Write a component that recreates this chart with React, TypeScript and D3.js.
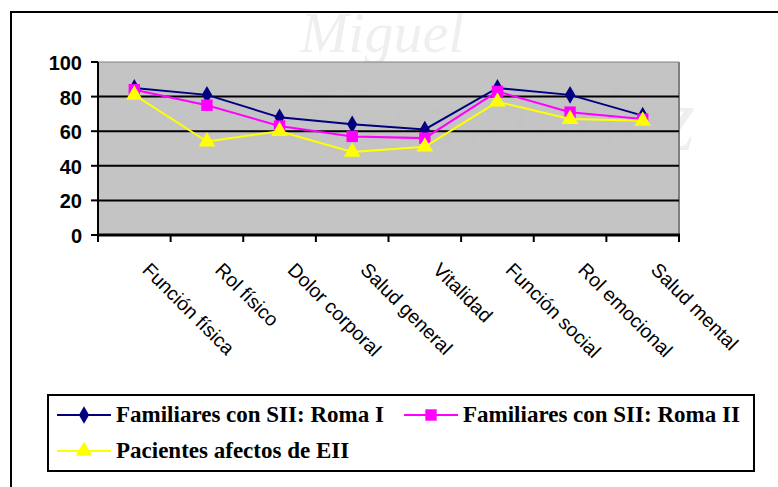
import React, { useRef, useEffect } from "react";
import { select, scaleBand, scaleLinear, line, symbol, symbolDiamond, symbolSquare, symbolTriangle } from "d3";

const categories = ["Función física", "Rol físico", "Dolor corporal", "Salud general", "Vitalidad", "Función social", "Rol emocional", "Salud mental"];
const romaI = [85, 81, 68, 64, 61, 85, 81, 69];
const romaII = [84, 75, 63, 57, 56, 83, 71, 67];
const pacientes = [81, 54, 60, 48, 51, 77, 67, 66];
const yTicks = [0, 20, 40, 60, 80, 100];

const seriesNames = ["Familiares con SII: Roma I", "Familiares con SII: Roma II", "Pacientes afectos de EII"];

function App() {
    const svgRef = useRef(null);

    useEffect(() => {
        const svg = select(svgRef.current);
        svg.selectAll("*").remove();

        const W = 778, H = 487;
        const left = 98, right = 679, top = 62, bottom = 235;

        const x = scaleBand().domain(categories).range([left, right]);
        const y = scaleLinear().domain([0, 100]).range([bottom, top]);

        const series = [
            { name: seriesNames[0], values: romaI, color: "#000080", shape: symbolDiamond, size: 90 },
            { name: seriesNames[1], values: romaII, color: "#FF00FF", shape: symbolSquare, size: 130 },
            { name: seriesNames[2], values: pacientes, color: "#FFFF00", shape: symbolTriangle, size: 120 },
        ];

        // page background
        svg.append("rect").attr("width", W).attr("height", H).attr("fill", "#fff");

        // faint watermark
        const wm = svg.append("g").attr("opacity", 0.06).attr("font-family", "Liberation Serif, serif").attr("font-style", "italic");
        wm.append("text").attr("x", 300).attr("y", 52).attr("font-size", 58).text("Miguel");
        wm.append("text").attr("x", 300).attr("y", 150).attr("font-size", 90).text("Hernández");

        // outer chart frame
        svg.append("rect").attr("x", 11).attr("y", 12).attr("width", 800).attr("height", 500)
            .attr("fill", "none").attr("stroke", "#000").attr("stroke-width", 2);

        // plot area
        svg.append("rect").attr("x", left).attr("y", top).attr("width", right - left).attr("height", bottom - top)
            .attr("fill", "#C0C0C0").attr("fill-opacity", 0.93);
        svg.append("line").attr("x1", right).attr("x2", right).attr("y1", top).attr("y2", bottom)
            .attr("stroke", "#808080").attr("stroke-width", 2);
        svg.append("line").attr("x1", left).attr("x2", right).attr("y1", top).attr("y2", top)
            .attr("stroke", "#808080").attr("stroke-width", 1);

        // grid lines
        svg.selectAll(".grid").data(yTicks.filter(d => d > 0 && d < 100)).join("line")
            .attr("class", "grid")
            .attr("x1", left).attr("x2", right)
            .attr("y1", d => y(d)).attr("y2", d => y(d))
            .attr("stroke", "#000").attr("stroke-width", 2);

        // y axis
        svg.append("line").attr("x1", left).attr("x2", left).attr("y1", top).attr("y2", bottom + 1)
            .attr("stroke", "#000").attr("stroke-width", 2);
        svg.selectAll(".ytick").data(yTicks).join("line")
            .attr("class", "ytick")
            .attr("x1", left - 7).attr("x2", left)
            .attr("y1", d => y(d)).attr("y2", d => y(d))
            .attr("stroke", "#000").attr("stroke-width", 2);
        svg.selectAll(".ylabel").data(yTicks).join("text")
            .attr("class", "ylabel")
            .attr("x", left - 16).attr("y", d => y(d) + 8)
            .attr("text-anchor", "end")
            .attr("font-family", "Liberation Sans, Arial, sans-serif")
            .attr("font-weight", "bold").attr("font-size", 20)
            .text(d => d);

        // x axis
        svg.append("line").attr("x1", left - 1).attr("x2", right + 1).attr("y1", bottom).attr("y2", bottom)
            .attr("stroke", "#000").attr("stroke-width", 3);
        const bounds = categories.map(c => x(c)).concat([right]);
        svg.selectAll(".xtick").data(bounds).join("line")
            .attr("class", "xtick")
            .attr("x1", d => d).attr("x2", d => d)
            .attr("y1", bottom).attr("y2", bottom + 7)
            .attr("stroke", "#000").attr("stroke-width", 2);
        svg.selectAll(".xlabel").data(categories).join("text")
            .attr("class", "xlabel")
            .attr("transform", d => `translate(${x(d) + x.bandwidth() / 2 + 7},${bottom + 36}) rotate(45)`)
            .attr("font-family", "Liberation Sans, Arial, sans-serif")
            .attr("font-size", 19.5)
            .text(d => d);

        // series
        const cx = (i) => x(categories[i]) + x.bandwidth() / 2;
        series.forEach(s => {
            const path = line().x((d, i) => cx(i)).y(d => y(d));
            svg.append("path").datum(s.values).attr("d", path)
                .attr("fill", "none").attr("stroke", s.color).attr("stroke-width", 2);
            svg.selectAll(null).data(s.values).join("path")
                .attr("transform", (d, i) => `translate(${cx(i)},${y(d)})`)
                .attr("d", symbol().type(s.shape).size(s.size))
                .attr("fill", s.color);
        });

        // legend
        const lg = svg.append("g");
        lg.append("rect").attr("x", 48).attr("y", 395).attr("width", 706).attr("height", 76)
            .attr("fill", "#fff").attr("stroke", "#000").attr("stroke-width", 2);
        const items = [
            { x: 57, y: 415 },
            { x: 404, y: 415 },
            { x: 57, y: 451 },
        ];
        series.forEach((s, i) => {
            const it = items[i];
            lg.append("line").attr("x1", it.x).attr("x2", it.x + 54).attr("y1", it.y).attr("y2", it.y)
                .attr("stroke", s.color).attr("stroke-width", 2);
            lg.append("path").attr("transform", `translate(${it.x + 27},${it.y})`)
                .attr("d", symbol().type(s.shape).size(s.size)).attr("fill", s.color);
            lg.append("text").attr("x", it.x + 59).attr("y", it.y + 7)
                .attr("font-family", "Liberation Serif, Times New Roman, serif")
                .attr("font-weight", "bold").attr("font-size", 23)
                .text(s.name);
        });
    }, []);

    return (
        <div style={{ position: "absolute", left: 0, top: 0 }}>
            <svg ref={svgRef} width={778} height={487} style={{ display: "block" }}></svg>
        </div>
    );
}

export default App;
